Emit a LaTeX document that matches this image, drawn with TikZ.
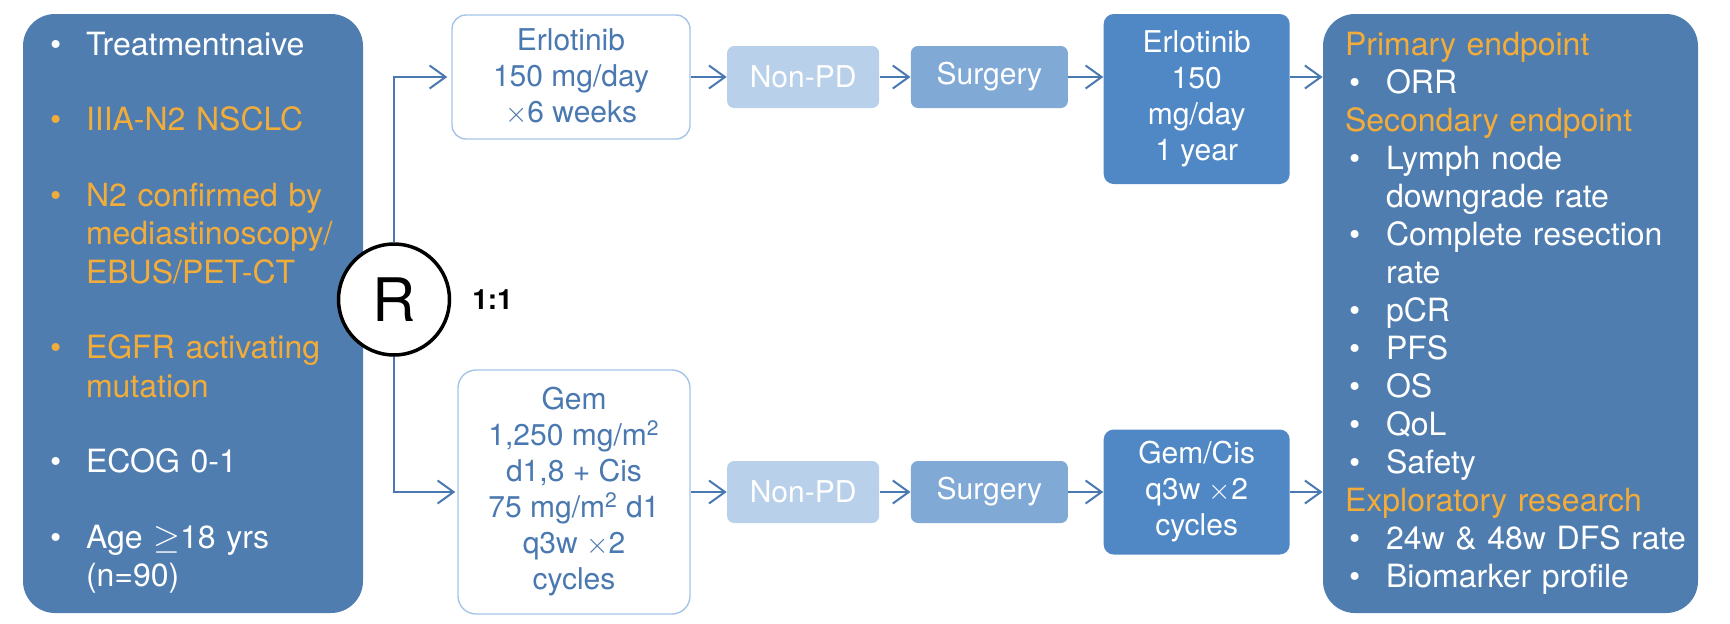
\documentclass[tikz,border=0pt]{standalone}
\usepackage{fontspec}
\setmainfont{TeX Gyre Heros}
\usetikzlibrary{arrows.meta,positioning}
\definecolor{panelblue}{HTML}{4F7DAF}
\definecolor{deepblue}{HTML}{5088C6}
\definecolor{surgblue}{HTML}{80A9D6}
\definecolor{paleblue}{HTML}{B9D0EA}
\definecolor{linkblue}{HTML}{4A78B0}
\definecolor{edgeblue}{HTML}{A5C4E6}
\definecolor{trialorange}{HTML}{F2AC3A}
\newcommand{\hl}{\color{trialorange}}
\newcommand{\critbul}{\makebox[18pt][l]{\textbullet}}
\newcommand{\goalbul}{\hspace*{2pt}\makebox[18.5pt][l]{\textbullet}}

\begin{document}
\begin{tikzpicture}[
  x=0.5pt, y=-0.5pt,
  panel/.style={rounded corners=16pt, fill=panelblue, text=white, inner sep=0pt,
              minimum height=299.5pt},
  armbox/.style={rounded corners=#1, draw=edgeblue, line width=0.7pt, fill=white,
              text=linkblue, align=center, inner sep=0pt, font=\fontsize{15}{18}\selectfont},
  stagebox/.style={rounded corners=3.5pt, fill=#1, text=white, inner sep=0pt,
              minimum height=31pt, font=\fontsize{15}{18}\selectfont},
  drugbox/.style={rounded corners=5pt, fill=deepblue, text=white, align=center,
              inner sep=0pt, minimum width=93pt, font=\fontsize{15}{18}\selectfont},
  randcircle/.style={circle, draw=black, line width=1.75pt, fill=white, inner sep=0pt,
              minimum size=55.5pt, font=\fontsize{30}{36}\selectfont},
  flow/.style={-{Straight Barb[length=8pt,width=11.5pt]}, line width=1pt, draw=linkblue}
]
  \useasboundingbox (0,0) rectangle (1730,623);

  \node[panel, minimum width=170pt, text width=143pt, font=\fontsize{16}{19.25}\selectfont]
    (criteria) at (193,313.5) {%
    \begin{tabular}{@{}l@{}}
      \critbul Treatmentnaive\\[18.5pt]
      \hl\critbul IIIA-N2 NSCLC\\[18.5pt]
      \hl\critbul N2 confirmed by\\
      \hl\hspace*{18pt}mediastinoscopy/\\
      \hl\hspace*{18pt}EBUS/PET-CT\\[18.5pt]
      \hl\critbul EGFR activating\\
      \hl\hspace*{18pt}mutation\\[18.5pt]
      \critbul ECOG 0-1\\[18.5pt]
      \critbul Age $\geq$18 yrs\\
      \hspace*{18pt}(n=90)
    \end{tabular}};

  \node[panel, minimum width=187.5pt, text width=165.5pt, font=\fontsize{16}{19}\selectfont]
    (ends) at (1510.5,313.5) {%
    \begin{tabular}{@{}l@{}}
      \hl Primary endpoint\\
      \goalbul ORR\\
      \hl Secondary endpoint\\
      \goalbul Lymph node\\
      \hspace*{20.5pt}downgrade rate\\
      \goalbul Complete resection\\
      \hspace*{20.5pt}rate\\
      \goalbul pCR\\
      \goalbul PFS\\
      \goalbul OS\\
      \goalbul QoL\\
      \goalbul Safety\\
      \hl Exploratory research\\
      \goalbul 24w \& 48w DFS rate\\
      \goalbul Biomarker profile
    \end{tabular}};

  \node[randcircle] (rand) at (394,299.5) {R};
  \node[inner sep=0pt, font=\bfseries\fontsize{14}{16}\selectfont] (ratio) at (492.5,300) {1:1};

  \node[armbox=7pt, minimum width=119pt, minimum height=62pt] (arm1) at (571,77)
    {Erlotinib\\150 mg/day\\$\times$6 weeks};
  \node[stagebox=paleblue, minimum width=76pt, right=18pt of arm1] (nonpd1) {Non-PD};
  \node[stagebox=surgblue, minimum width=78.5pt, right=15.5pt of nonpd1] (surg1) {Surgery};
  \node[drugbox, minimum height=85pt, right=17.5pt of surg1, yshift=-11pt] (erlyear)
    {Erlotinib\\150\\mg/day\\1 year};

  \node[armbox=9pt, minimum width=116pt, minimum height=122pt] (arm2) at (574,492)
    {Gem\\1,250 mg/m\textsuperscript{2}\\d1,8 + Cis\\75 mg/m\textsuperscript{2} d1\\q3w $\times$2\\cycles};
  \node[stagebox=paleblue, minimum width=76pt, right=18pt of arm2] (nonpd2) {Non-PD};
  \node[stagebox=surgblue, minimum width=78.5pt, right=15.5pt of nonpd2] (surg2) {Surgery};
  \node[drugbox, minimum height=62.5pt, right=17.5pt of surg2] (gemcis)
    {Gem/Cis\\q3w $\times$2\\cycles};

  \draw[flow, shorten >=2pt] (rand.north) |- (arm1.west);
  \draw[flow, shorten >=1pt] (rand.south) |- (arm2.west);
  \draw[flow] (arm1) -- (nonpd1);
  \draw[flow] (nonpd1) -- (surg1);
  \draw[flow] (surg1) -- (surg1 -| erlyear.west);
  \draw[flow] (erlyear.east |- surg1) -- (ends.west |- surg1);
  \draw[flow] (arm2) -- (nonpd2);
  \draw[flow] (nonpd2) -- (surg2);
  \draw[flow] (surg2) -- (gemcis);
  \draw[flow] (gemcis) -- (gemcis -| ends.west);
\end{tikzpicture}
\end{document}
